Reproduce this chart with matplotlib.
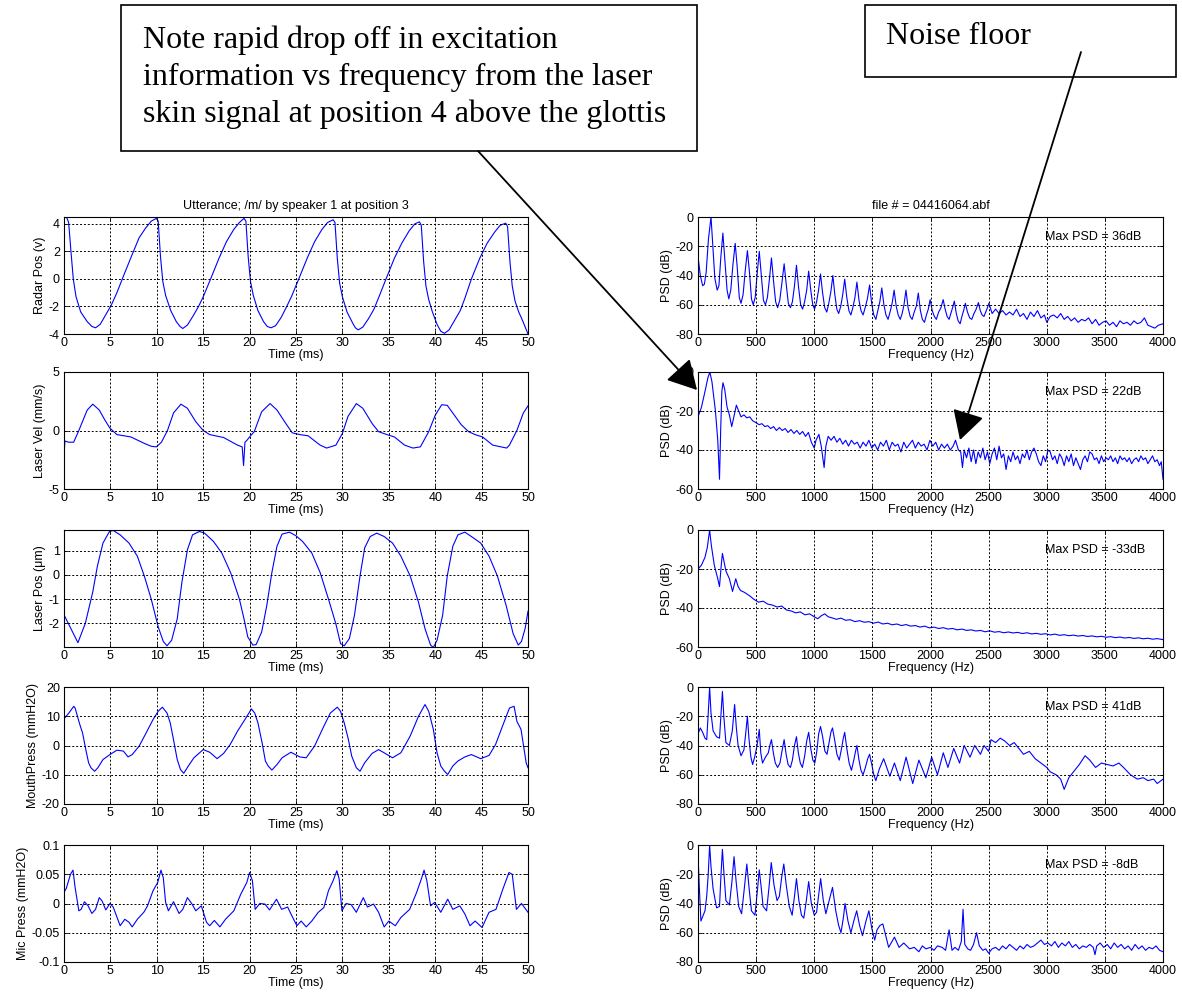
import numpy as np
import matplotlib
matplotlib.use("Agg")
import matplotlib.pyplot as plt
from matplotlib.patches import Rectangle, FancyArrowPatch

plt.rcParams['font.family'] = ['Liberation Sans', 'DejaVu Sans']
plt.rcParams['axes.unicode_minus'] = False

# ---------------- data ----------------
radar = [(0, 4.5), (0.3, 4.45), (0.5, 4.1), (0.75, 2.0), (1.0, 0.0), (1.3, -1.3), (1.8, -2.4), (2.5, -3.1),
         (3.0, -3.45), (3.4, -3.55), (3.9, -3.3), (4.5, -2.6), (5.1, -1.9), (5.7, -1.0), (6.4, 0.2), (7.3, 1.7),
         (8.1, 3.0), (8.8, 3.7), (9.4, 4.2), (9.95, 4.4),
         (10.15, 4.2), (10.4, 1.6), (10.65, -0.2), (10.95, -1.2), (11.5, -2.3), (12.1, -3.1), (12.5, -3.45),
         (12.8, -3.6), (13.3, -3.35), (13.9, -2.7), (14.5, -2.0), (15.0, -1.3), (15.8, 0.0), (16.7, 1.5),
         (17.5, 2.7), (18.3, 3.6), (18.9, 4.1), (19.4, 4.4),
         (19.6, 4.2), (19.85, 1.6), (20.1, -0.2), (20.4, -1.2), (20.9, -2.3), (21.5, -3.1), (21.9, -3.45),
         (22.3, -3.55), (22.8, -3.4), (23.4, -2.8), (24.0, -2.0), (24.5, -1.3), (25.3, 0.0), (26.2, 1.5),
         (27.0, 2.7), (27.8, 3.6), (28.4, 4.1), (29.0, 4.3),
         (29.2, 4.1), (29.45, 1.5), (29.7, -0.3), (30.0, -1.3), (30.5, -2.4), (31.1, -3.2), (31.4, -3.55),
         (31.7, -3.7), (32.2, -3.5), (32.8, -2.9), (33.4, -2.2), (34.0, -1.2), (34.7, 0.0), (35.6, 1.5),
         (36.4, 2.6), (37.2, 3.5), (37.8, 4.0), (38.3, 4.15),
         (38.5, 3.9), (38.75, 1.3), (39.0, -0.5), (39.3, -1.5), (39.7, -2.4), (40.2, -3.3), (40.6, -3.8),
         (41.0, -3.95), (41.5, -3.7), (42.1, -3.0), (42.7, -2.3), (43.2, -1.4), (43.9, 0.0), (44.8, 1.5),
         (45.6, 2.6), (46.4, 3.4), (47.0, 3.9), (47.6, 4.05),
         (47.8, 3.8), (48.05, 1.3), (48.3, -0.5), (48.6, -1.6), (49.0, -2.4), (49.4, -3.0), (49.7, -3.5),
         (50.0, -4.0)]

laser_vel = [(0, -2.1), (0.1, -0.9), (0.5, -1.0), (1.04, -1.0), (1.6, 0.0), (2.5, 1.75), (3.1, 2.25),
             (3.8, 1.75), (4.4, 0.9), (4.95, 0.2), (5.7, -0.35), (7.2, -0.55), (8.65, -1.1), (9.4, -1.35),
             (9.95, -1.4), (10.5, -1.0), (11.15, 0.0), (11.8, 1.5), (12.6, 2.25), (13.3, 1.9), (14.2, 0.75),
             (15.0, 0.0), (15.7, -0.35), (17.2, -0.6), (18.7, -1.25), (19.2, -1.4), (19.35, -3.0), (19.5, -1.0),
             (19.7, -0.85), (20.1, -0.45), (20.5, -0.1), (21.3, 1.6), (22.2, 2.3), (22.95, 1.75), (23.9, 0.6),
             (24.6, -0.2), (25.4, -0.35), (26.3, -0.45), (27.6, -1.25), (28.3, -1.5), (29.3, -1.25),
             (30.0, -0.25), (30.6, 1.2), (31.5, 2.3), (32.2, 1.9), (33.2, 0.6), (33.9, -0.1), (34.8, -0.35),
             (35.6, -0.55), (36.7, -1.25), (37.6, -1.5), (38.4, -1.4), (39.3, -0.1), (40.0, 1.3), (40.7, 2.2),
             (41.3, 2.15), (42.3, 1.05), (42.8, 0.5), (43.6, -0.1), (44.3, -0.35), (45.1, -0.55),
             (46.2, -1.25), (47.7, -1.5), (48.0, -1.25), (48.8, 0.0), (49.5, 1.5), (50.0, 2.1)]

laser_pos = [(0, -1.65), (1.5, -2.8), (2.3, -2.0), (3.1, -0.7), (3.6, 0.37), (4.2, 1.32), (4.9, 1.8),
             (5.3, 1.84), (6.05, 1.66), (7.0, 1.32), (7.9, 0.78), (8.65, -0.04), (9.4, -1.0), (10.15, -2.15),
             (10.7, -2.75), (11.1, -2.93), (11.6, -2.7), (12.2, -1.82), (12.7, -0.31), (13.3, 1.04),
             (13.85, 1.66), (14.6, 1.8), (15.15, 1.73), (16.1, 1.39), (17.0, 0.91), (17.95, 0.1), (18.9, -1.0),
             (19.4, -1.82), (19.8, -2.56), (20.35, -2.9), (20.7, -2.88), (21.3, -2.36), (21.85, -1.27),
             (22.4, 0.1), (22.95, 1.19), (23.5, 1.69), (24.3, 1.77), (25.0, 1.62), (25.7, 1.39), (26.7, 0.91),
             (27.6, 0.1), (28.5, -1.0), (29.3, -2.03), (29.8, -2.84), (30.2, -2.93), (30.75, -2.63),
             (31.3, -1.67), (31.9, -0.04), (32.4, 1.12), (33.0, 1.59), (33.7, 1.73), (34.5, 1.59), (35.4, 1.32),
             (36.3, 0.78), (37.3, -0.04), (38.2, -1.13), (38.9, -2.22), (39.5, -2.9), (39.8, -3.0), (40.2, -2.7),
             (40.8, -1.67), (41.3, -0.04), (41.9, 1.19), (42.45, 1.66), (43.2, 1.77), (43.9, 1.59), (44.9, 1.32),
             (45.8, 0.78), (46.7, -0.04), (47.65, -1.27), (48.4, -2.43), (48.95, -2.9), (49.3, -2.75),
             (49.7, -2.2), (50.0, -1.5)]

mouth = [(0, 9.1), (0.5, 11), (1.05, 13.4), (1.2, 12.8), (1.7, 7.2), (2.0, 4.3), (2.35, -1.4), (2.65, -5.9),
         (2.9, -7.6), (3.3, -8.8), (3.65, -7.6), (4.2, -4.8), (4.95, -3.1), (5.7, -1.6), (6.4, -1.9),
         (6.9, -3.9), (7.35, -3.1), (8.1, -0.2), (8.85, 4.3), (9.6, 8.9), (10.15, 11.7), (10.6, 13.1),
         (11.1, 11.1), (11.45, 7.7), (11.8, 2.0), (12.2, -4.8), (12.55, -8.2), (12.9, -9.5), (13.4, -7.0),
         (14.0, -4.2), (15.0, -1.4), (15.7, -2.3), (16.5, -4.5), (17.2, -2.7), (17.9, 0.3), (18.7, 4.9),
         (19.5, 8.9), (20.2, 12.5), (20.55, 11.1), (20.9, 7.7), (21.35, 0.9), (21.7, -5.3), (22.0, -7.0),
         (22.4, -8.4), (22.95, -6.5), (23.5, -4.2), (24.45, -2.3), (25.4, -3.9), (26.1, -4.2), (27.0, -0.2),
         (28.0, 6.6), (28.7, 11.1), (29.45, 13.1), (29.8, 11.7), (30.2, 7.7), (30.65, 2.0), (31.0, -3.6),
         (31.5, -7.6), (31.9, -8.8), (32.4, -5.9), (33.2, -2.7), (33.9, -1.4), (34.5, -2.5), (35.4, -4.2),
         (36.3, -2.5), (37.3, 3.2), (38.2, 10.0), (38.9, 14.0), (39.3, 11.7), (39.8, 5.5), (40.2, -2.5),
         (40.6, -7.0), (41.0, -8.8), (41.35, -9.9), (41.9, -7.0), (42.45, -5.3), (43.2, -3.9), (43.9, -3.1),
         (44.9, -4.5), (45.8, -3.4), (46.5, 0.3), (47.25, 6.6), (48.0, 12.8), (48.5, 13.4), (48.8, 8.3),
         (49.25, 5.5), (49.5, 0.3), (49.8, -5.9), (50.0, -7.6)]

mic = [(0, 0.019), (0.25, 0.026), (0.7, 0.05), (0.97, 0.057), (1.2, 0.027), (1.6, -0.0125), (1.85, -0.01),
       (2.2, 0.003), (2.6, -0.004), (3.0, -0.017), (3.4, -0.01), (3.8, 0.01), (4.1, 0.0045), (4.5, -0.011),
       (4.95, 0.0), (5.3, -0.006), (6.05, -0.038), (6.55, -0.027), (7.0, -0.032), (7.35, -0.04),
       (7.9, -0.027), (8.6, -0.015), (9.0, -0.004), (9.6, 0.022), (10.1, 0.036), (10.45, 0.057),
       (10.7, 0.044), (10.95, 0.002), (11.25, -0.0125), (11.8, 0.003), (12.4, -0.017), (12.8, -0.01),
       (13.3, 0.01), (13.8, -0.001), (14.2, -0.0125), (14.8, -0.004), (15.35, -0.032), (15.7, -0.038),
       (16.2, -0.029), (16.8, -0.04), (17.4, -0.027), (18.3, -0.0125), (19.05, 0.016), (19.7, 0.036),
       (20.0, 0.053), (20.3, 0.039), (20.6, -0.01), (21.1, 0.0), (21.65, -0.001), (22.15, -0.011),
       (22.9, 0.0074), (23.45, -0.01), (24.1, -0.006), (24.55, -0.021), (25.1, -0.038), (25.55, -0.03),
       (26.1, -0.04), (26.7, -0.03), (27.4, -0.015), (28.0, -0.007), (28.5, 0.022), (29.0, 0.039),
       (29.4, 0.056), (29.65, 0.042), (29.95, -0.0125), (30.4, 0.0), (30.95, -0.002), (31.5, -0.015),
       (32.25, 0.01), (32.7, -0.006), (33.35, -0.001), (33.9, -0.015), (34.5, -0.04), (35.0, -0.03),
       (35.7, -0.038), (36.3, -0.024), (37.25, -0.01), (38.0, 0.019), (38.55, 0.044), (38.8, 0.057),
       (39.1, 0.039), (39.5, -0.004), (39.95, 0.002), (40.6, -0.015), (41.35, 0.0074), (41.9, -0.01),
       (42.65, -0.004), (43.2, -0.018), (43.75, -0.038), (44.3, -0.03), (45.05, -0.041), (45.8, -0.015),
       (46.55, -0.01), (47.3, 0.025), (47.95, 0.053), (48.3, 0.05), (48.75, -0.01), (49.3, 0.0),
       (50.0, -0.015)]

psd_radar = [(0, -27), (20, -40), (40, -47), (55, -46), (70, -38), (90, -15), (112, 0), (128, -20), (145, -42),
             (165, -50), (180, -47), (196, -28), (214, -11), (232, -30), (250, -50), (265, -56), (282, -50),
             (300, -33), (320, -18), (338, -35), (355, -55), (370, -59), (388, -53), (406, -37), (425, -23),
             (443, -38), (460, -56), (475, -60), (492, -55), (510, -38), (527, -23.5), (545, -40), (563, -57),
             (580, -60), (597, -55), (615, -42), (632, -28), (650, -44), (668, -58), (685, -62), (703, -57),
             (722, -45), (741, -32), (759, -46), (777, -59), (795, -62), (812, -58), (830, -47), (847, -33),
             (865, -48), (883, -60), (900, -63), (917, -58), (935, -50), (952, -37), (970, -50), (987, -60),
             (1003, -63), (1020, -58), (1037, -50), (1054, -39), (1072, -52), (1090, -62), (1108, -65),
             (1125, -59), (1143, -51), (1160, -40), (1177, -53), (1194, -63), (1210, -66), (1228, -61),
             (1245, -53), (1262, -42.5), (1280, -55), (1298, -64), (1315, -67), (1332, -62), (1350, -55),
             (1367, -44.5), (1385, -57), (1402, -64), (1420, -67), (1438, -62), (1457, -56), (1476, -46.5),
             (1494, -59), (1512, -67), (1530, -70), (1547, -64), (1564, -58), (1581, -48.5), (1599, -60),
             (1617, -67), (1635, -70), (1652, -65), (1670, -59), (1687, -50), (1705, -61), (1722, -67),
             (1740, -70), (1756, -66), (1772, -60), (1789, -50), (1807, -62), (1825, -68), (1842, -70),
             (1860, -65), (1878, -61), (1895, -52), (1913, -64), (1930, -70), (1948, -72), (1965, -67),
             (1981, -63), (1997, -56.5), (2015, -64), (2033, -68), (2050, -70), (2070, -65), (2090, -62),
             (2109, -56.5), (2126, -63), (2143, -68), (2160, -70), (2175, -66), (2190, -62), (2205, -57.5),
             (2222, -66), (2238, -71), (2255, -73), (2270, -68), (2285, -64), (2300, -59), (2318, -65),
             (2337, -69), (2355, -70), (2374, -66), (2393, -63), (2412, -58.5), (2428, -64), (2444, -67),
             (2460, -68), (2475, -65), (2490, -62), (2502, -59),
             (2530, -66), (2560, -63), (2590, -66), (2620, -64), (2650, -67), (2680, -65), (2710, -67),
             (2740, -63), (2770, -68), (2800, -66), (2830, -70), (2860, -65), (2890, -68), (2920, -64),
             (2950, -69), (2980, -67), (3000, -72), (3030, -68), (3060, -67), (3090, -69), (3120, -66),
             (3150, -70), (3180, -68), (3210, -71), (3240, -69), (3270, -72), (3300, -70), (3330, -71),
             (3360, -69), (3390, -73), (3420, -70), (3450, -74), (3480, -72), (3510, -71), (3540, -74),
             (3570, -72), (3600, -75), (3630, -71), (3660, -73), (3690, -72), (3720, -74), (3750, -71),
             (3780, -73), (3810, -72), (3840, -69), (3870, -74), (3900, -75), (3930, -76), (3960, -74),
             (4000, -73)]

psd_vel = [(0, -23), (30, -18), (60, -10), (85, -3), (102, 0), (120, -5), (150, -20), (170, -35), (185, -55),
           (195, -30), (205, -10), (215, -5.5), (230, -9), (250, -18), (270, -22), (290, -28), (305, -24),
           (330, -17), (350, -20), (370, -23), (395, -22), (420, -23.5), (445, -23), (470, -25), (500, -26),
           (525, -27), (550, -26.5), (575, -28), (600, -27.5), (625, -29), (650, -28), (675, -30), (700, -28.5),
           (725, -30), (750, -29), (775, -31), (800, -29.5), (825, -31.5), (850, -30), (875, -32), (900, -30.5),
           (925, -33), (950, -31), (975, -36), (1000, -39), (1015, -35), (1040, -32), (1060, -38), (1085, -49),
           (1100, -38), (1120, -33), (1145, -35), (1170, -33), (1195, -36), (1220, -34), (1245, -37),
           (1270, -35), (1295, -38), (1320, -35), (1345, -37), (1370, -36), (1395, -39), (1420, -36),
           (1445, -38), (1470, -35), (1495, -39), (1520, -37), (1545, -40), (1570, -36), (1595, -38),
           (1620, -35), (1645, -40), (1670, -36), (1695, -38), (1720, -37), (1745, -41), (1770, -36),
           (1795, -39), (1820, -37), (1845, -35), (1870, -39), (1895, -36), (1920, -38), (1945, -37),
           (1970, -40), (1995, -35), (2020, -38), (2045, -36), (2070, -40), (2095, -37), (2120, -39),
           (2145, -37), (2170, -40), (2195, -38), (2215, -35), (2240, -40), (2260, -41), (2275, -49),
           (2290, -40), (2310, -44), (2330, -39), (2350, -46), (2370, -40), (2390, -47), (2410, -41),
           (2430, -44), (2450, -39), (2470, -45), (2490, -41), (2510, -47), (2530, -42), (2550, -39),
           (2570, -45), (2590, -38), (2610, -44), (2630, -42), (2650, -50), (2670, -43), (2690, -46),
           (2710, -41), (2730, -45), (2750, -43), (2770, -47), (2790, -42), (2810, -44), (2830, -40),
           (2850, -45), (2870, -41), (2890, -39), (2910, -42), (2930, -46), (2950, -48), (2970, -43),
           (2990, -46), (3010, -40), (3030, -41), (3050, -45), (3070, -43), (3090, -47), (3110, -42),
           (3130, -44), (3150, -48), (3170, -43), (3190, -46), (3210, -42), (3230, -48), (3250, -44),
           (3270, -47), (3290, -50), (3310, -45), (3330, -43), (3350, -46), (3370, -41), (3390, -42),
           (3410, -45), (3430, -44), (3450, -47), (3470, -43), (3490, -46), (3510, -44), (3530, -45),
           (3550, -43), (3570, -46), (3590, -44), (3610, -47), (3630, -43), (3650, -45), (3670, -44),
           (3690, -46), (3710, -44), (3730, -47), (3750, -45), (3770, -44), (3790, -46), (3810, -43),
           (3830, -45), (3850, -44), (3870, -47), (3890, -45), (3910, -43), (3930, -46), (3950, -45),
           (3970, -48), (3985, -46), (4000, -55)]

psd_pos = [(0, -60), (1, -20), (30, -18), (60, -14), (80, -9), (100, 0), (115, -8), (140, -18), (170, -25),
           (185, -29), (200, -18), (210, -12), (240, -21), (270, -25), (297, -31.5), (325, -25), (345, -29),
           (365, -31), (400, -32), (450, -34), (480, -35.5), (520, -37), (560, -36.5), (600, -38), (640, -38.5),
           (680, -39.5), (720, -39), (760, -41), (800, -41.5), (840, -42.5), (880, -42), (920, -43.5),
           (960, -43), (1000, -44.5), (1030, -45.5), (1060, -44), (1090, -43), (1120, -44.5), (1150, -45),
           (1190, -45.8), (1230, -45.2), (1270, -46.3), (1310, -46), (1350, -47), (1390, -46.5), (1430, -47.3),
           (1470, -47), (1510, -47.8), (1550, -47.2), (1590, -48.2), (1630, -47.8), (1670, -48.6),
           (1710, -48.2), (1750, -49), (1790, -48.5), (1830, -49.3), (1870, -49), (1910, -49.8),
           (1950, -49.3), (1990, -50.2), (2030, -49.8), (2070, -50.5), (2110, -50.1), (2150, -50.8),
           (2190, -50.5), (2230, -51.2), (2270, -50.8), (2310, -51.5), (2350, -51.2), (2390, -51.8),
           (2430, -51.5), (2470, -52.2), (2510, -51.7), (2550, -52.4), (2590, -52.1), (2630, -52.7),
           (2670, -52.3), (2710, -52.8), (2750, -52.5), (2790, -53.1), (2830, -52.7), (2870, -53.3),
           (2910, -53), (2950, -53.5), (2990, -53.2), (3030, -53.8), (3070, -53.4), (3110, -54),
           (3150, -53.7), (3190, -54.2), (3230, -53.9), (3270, -54.4), (3310, -54.1), (3350, -54.6),
           (3390, -54.3), (3430, -54.8), (3470, -54.5), (3510, -55), (3550, -54.7), (3590, -55.2),
           (3630, -54.9), (3670, -55.4), (3710, -55.1), (3750, -55.6), (3790, -55.3), (3830, -55.8),
           (3870, -55.5), (3910, -56), (3950, -55.7), (4000, -56.2)]

psd_mouth = [(0, -32), (20, -28), (40, -31), (60, -35), (75, -36), (88, -18), (100, 0), (112, -18), (130, -30),
             (160, -34), (185, -35), (198, -18), (210, -3), (222, -20), (240, -38), (270, -40), (295, -30),
             (315, -12), (330, -28), (345, -40), (370, -47), (395, -43), (410, -32), (425, -20), (438, -35),
             (455, -48), (470, -53), (490, -47), (508, -40), (527, -29), (540, -45), (555, -52), (580, -48),
             (605, -45), (618, -40), (632, -36), (648, -45), (665, -52), (685, -55), (705, -52), (722, -44),
             (741, -36), (758, -46), (775, -53), (795, -55), (812, -50), (830, -40), (847, -34), (863, -45),
             (880, -52), (898, -55), (918, -47), (935, -37), (952, -31), (970, -42), (988, -50), (1005, -52),
             (1022, -44), (1038, -32), (1054, -27), (1072, -34), (1092, -44), (1110, -46), (1128, -38),
             (1143, -31), (1157, -28), (1175, -36), (1195, -46), (1215, -50), (1235, -42), (1250, -35),
             (1262, -31), (1280, -42), (1300, -52), (1320, -57), (1340, -50), (1355, -44), (1367, -40),
             (1385, -50), (1402, -57), (1420, -60), (1440, -55), (1460, -49), (1476, -46), (1495, -53),
             (1512, -60), (1530, -64), (1560, -56), (1597, -49), (1650, -61), (1690, -52), (1740, -64),
             (1790, -48), (1847, -66), (1900, -50), (1960, -62), (2010, -48), (2060, -60), (2110, -45),
             (2150, -55), (2200, -42), (2250, -52), (2290, -40), (2340, -48), (2380, -40), (2430, -46),
             (2460, -40), (2500, -44), (2520, -36), (2560, -38), (2600, -35), (2640, -37), (2680, -40),
             (2720, -38), (2760, -42), (2800, -46), (2850, -44), (2900, -49), (2950, -52), (3000, -55),
             (3030, -58), (3080, -60), (3120, -63), (3150, -70), (3190, -62), (3230, -58), (3280, -53),
             (3330, -47), (3370, -50), (3420, -55), (3470, -52), (3520, -53), (3570, -54), (3620, -52),
             (3660, -55), (3720, -60), (3780, -63), (3830, -62), (3870, -64), (3920, -63), (3950, -66),
             (4000, -63)]

psd_mic = [(0, -7), (12, -30), (25, -52), (45, -48), (60, -45), (75, -35), (88, -20), (100, 0), (112, -15),
           (130, -30), (160, -43), (185, -42), (198, -20), (210, -3), (222, -18), (240, -38), (270, -41),
           (292, -25), (310, -8), (328, -25), (350, -42), (375, -47), (398, -30), (420, -13), (440, -30),
           (460, -45), (490, -48), (510, -32), (527, -17), (545, -30), (560, -42), (590, -45), (612, -28),
           (630, -12), (655, -28), (680, -38), (700, -35), (720, -22), (738, -13), (760, -28), (785, -42),
           (810, -48), (830, -35), (847, -23), (868, -38), (890, -48), (910, -50), (932, -38), (952, -25),
           (975, -40), (1000, -48), (1020, -46), (1040, -33), (1055, -23), (1078, -38), (1100, -47),
           (1128, -38), (1157, -29), (1185, -45), (1210, -55), (1230, -60), (1250, -50), (1265, -40),
           (1290, -52), (1315, -60), (1340, -52), (1365, -45), (1390, -55), (1415, -62), (1445, -52),
           (1470, -45), (1495, -57), (1520, -65), (1540, -58), (1565, -55), (1590, -54), (1615, -62),
           (1640, -70), (1690, -63), (1730, -70), (1770, -67), (1820, -71), (1860, -70), (1900, -73),
           (1930, -69), (1960, -71), (2000, -70), (2030, -72), (2060, -69), (2100, -70), (2130, -72),
           (2160, -58), (2185, -72), (2210, -70), (2240, -72), (2265, -66), (2280, -44), (2295, -68),
           (2320, -71), (2345, -72), (2370, -68), (2396, -60), (2420, -69), (2450, -72), (2475, -71),
           (2500, -74), (2530, -71), (2560, -70), (2590, -72), (2620, -69), (2650, -71), (2680, -68),
           (2710, -70), (2740, -72), (2770, -69), (2800, -71), (2830, -68), (2860, -70), (2890, -69),
           (2920, -67), (2950, -65), (2980, -68), (3010, -67), (3040, -69), (3070, -66), (3100, -70),
           (3130, -67), (3160, -69), (3190, -66), (3220, -70), (3250, -68), (3280, -71), (3310, -69),
           (3340, -70), (3370, -68), (3400, -70), (3415, -75), (3430, -69), (3460, -67), (3490, -70),
           (3520, -68), (3550, -71), (3580, -67), (3610, -70), (3640, -68), (3670, -71), (3700, -69),
           (3730, -72), (3760, -68), (3790, -71), (3820, -69), (3850, -72), (3880, -70), (3910, -71),
           (3940, -69), (3970, -72), (4000, -73)]

left_ylabels = ['Radar Pos (v)', 'Laser Vel (mm/s)', 'Laser Pos (\u03bcm)', 'MouthPress (mmH2O)', 'Mic Press (mmH2O)']
left_yticks = [[-4, -2, 0, 2, 4], [-5, 0, 5], [-2, -1, 0, 1], [-20, -10, 0, 10, 20], [-0.1, -0.05, 0, 0.05, 0.1]]
left_yticklabels = [None, None, None, None, ['-0.1', '-0.05', '0', '0.05', '0.1']]
left_ylims = [(-4, 4.5), (-5, 5), (-2.98, 1.86), (-20, 20), (-0.1, 0.1)]
right_yticks = [[-80, -60, -40, -20, 0], [-60, -40, -20, 0], [-60, -40, -20, 0], [-80, -60, -40, -20, 0], [-80, -60, -40, -20, 0]]
right_ylims = [(-80, 0), (-60, 0), (-60, 0), (-80, 0), (-80, 0)]
max_psd = ['Max PSD = 36dB', 'Max PSD = 22dB', 'Max PSD = -33dB', 'Max PSD = 41dB', 'Max PSD = -8dB']
time_ticks = [0, 5, 10, 15, 20, 25, 30, 35, 40, 45, 50]
freq_ticks = [0, 500, 1000, 1500, 2000, 2500, 3000, 3500, 4000]

left_series = [radar, laser_vel, laser_pos, mouth, mic]
right_series = [psd_radar, psd_vel, psd_pos, psd_mouth, psd_mic]

# ---------------- layout ----------------
W, H = 1182, 1000
fig = plt.figure(figsize=(W / 100, H / 100), dpi=100)
fig.patch.set_facecolor('white')
row_tops = [217, 372, 530, 687, 845]
row_h = 117
LX, LW = 64, 464
RX, RW = 698, 465
FS = 9
LINE = '#0000ff'


def style(ax):
    ax.tick_params(direction='in', length=3, width=0.6, labelsize=FS, top=True, right=True, pad=3)
    ax.tick_params(axis='x', pad=2)
    for s in ax.spines.values():
        s.set_linewidth(0.8)
    ax.grid(True, color='k', linestyle=(0, (2, 2)), linewidth=0.7)
    ax.set_axisbelow(False)


for i in range(5):
    bottom = 1 - (row_tops[i] + row_h) / H
    axl = fig.add_axes([LX / W, bottom, LW / W, row_h / H])
    d = np.array(left_series[i]).T
    axl.plot(d[0], d[1], color=LINE, lw=0.8)
    axl.set_xlim(0, 50)
    axl.set_ylim(*left_ylims[i])
    axl.set_xticks(time_ticks)
    axl.set_yticks(left_yticks[i])
    if left_yticklabels[i]:
        axl.set_yticklabels(left_yticklabels[i])
    axl.set_xlabel('Time (ms)', fontsize=FS, labelpad=0.5)
    axl.set_ylabel(left_ylabels[i], fontsize=FS, labelpad=2)
    style(axl)

    axr = fig.add_axes([RX / W, bottom, RW / W, row_h / H])
    d = np.array(right_series[i]).T
    axr.plot(d[0], d[1], color=LINE, lw=0.8)
    axr.set_xlim(0, 4000)
    axr.set_ylim(*right_ylims[i])
    axr.set_xticks(freq_ticks)
    axr.set_yticks(right_yticks[i])
    axr.set_xlabel('Frequency (Hz)', fontsize=FS, labelpad=0.5)
    axr.set_ylabel('PSD (dB)', fontsize=FS, labelpad=2)
    axr.text(0.746, 0.83, max_psd[i], transform=axr.transAxes, fontsize=FS, va='center', ha='left')
    style(axr)
    if i == 0:
        axl.set_title('Utterance; /m/ by speaker 1 at position 3', fontsize=FS, pad=6)
        axr.set_title('file # = 04416064.abf', fontsize=FS, pad=6)


def fx(x):
    return x / W


def fy(y):
    return 1 - y / H


# annotation boxes
fig.patches.append(Rectangle((fx(121), fy(151)), fx(697) - fx(121), fy(5) - fy(151),
                             transform=fig.transFigure, fill=False, edgecolor='k', lw=1.2, zorder=5))
fig.patches.append(Rectangle((fx(865), fy(77)), fx(1176) - fx(865), fy(5) - fy(77),
                             transform=fig.transFigure, fill=False, edgecolor='k', lw=1.2, zorder=5))
note_lines = ['Note rapid drop off in excitation',
              'information vs frequency from the laser',
              'skin signal at position 4 above the glottis']
for line, yy in zip(note_lines, [40, 77, 114]):
    fig.text(fx(143), fy(yy), line, family=['Liberation Serif', 'DejaVu Serif'], fontsize=23,
             va='center', ha='left')
fig.text(fx(886), fy(36), 'Noise floor', family=['Liberation Serif', 'DejaVu Serif'], fontsize=23,
         va='center', ha='left')

# arrows
for (x0, y0), (x1, y1) in [((478, 151), (697, 390)), ((1081, 52), (960, 440))]:
    fig.patches.append(FancyArrowPatch((fx(x0), fy(y0)), (fx(x1), fy(y1)), transform=fig.transFigure,
                                       arrowstyle='-|>,head_length=0.9,head_width=0.5', mutation_scale=20,
                                       lw=1.3, color='k', shrinkA=0, shrinkB=0, zorder=6))

fig.savefig('out.png', dpi=100, facecolor='white')
